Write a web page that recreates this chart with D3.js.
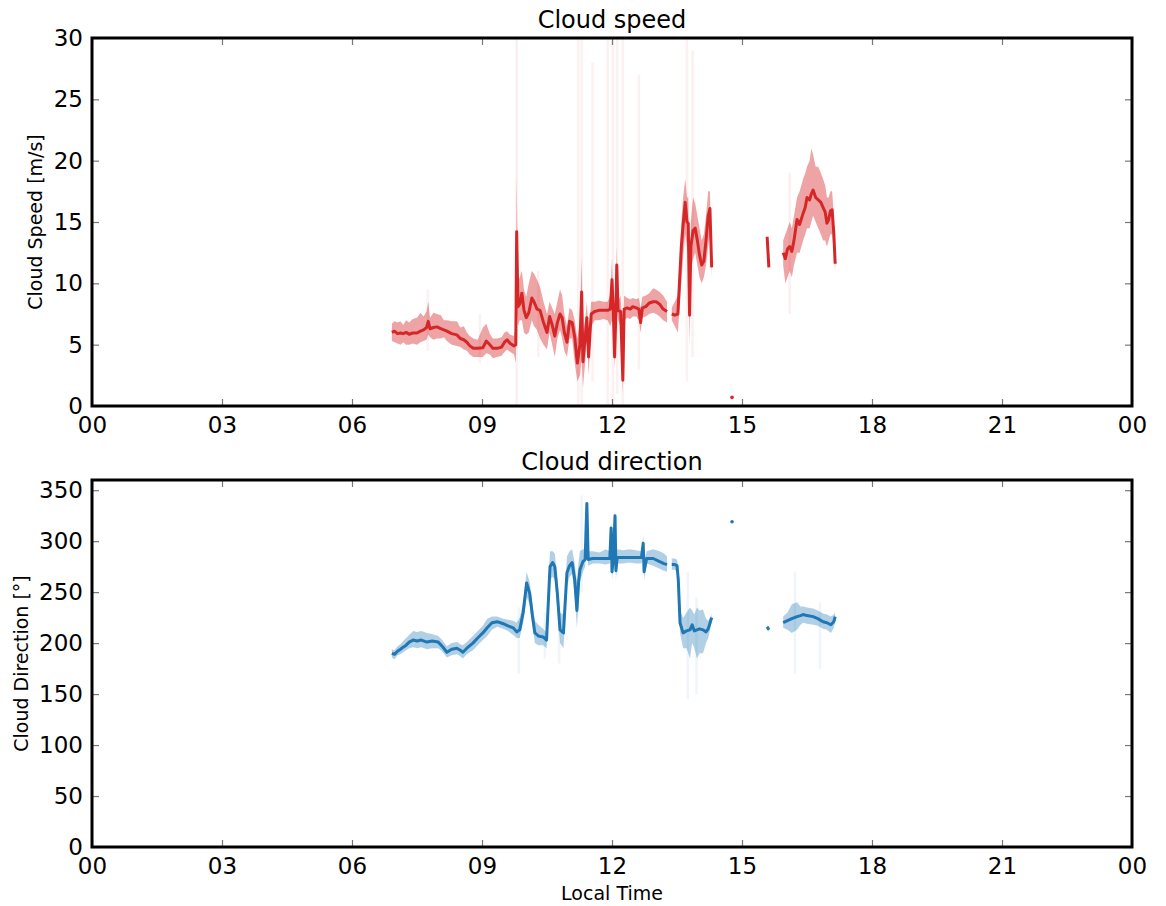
<!DOCTYPE html>
<html><head><meta charset="utf-8">
<script src="https://cdn.jsdelivr.net/npm/d3@7"></script>
<style>
body{margin:0;background:#fff;}
text{font-family:"DejaVu Sans",sans-serif;fill:#000;}
</style></head>
<body><svg id="c" width="1166" height="906"></svg>
<script>
// ---------------- DATA ----------------
const hourTicks = [0,3,6,9,12,15,18,21,24];
const hourLabels = ["00","03","06","09","12","15","18","21","00"];
const speedTicks = [0,5,10,15,20,25,30];
const dirTicks = [0,50,100,150,200,250,300,350];

// Cloud speed: time (h), mean, lower band, upper band (null = gap)
const speedT =    [6.92,6.98,7.05,7.12,7.18,7.25,7.32,7.4,7.5,7.58,7.65,7.72,7.76,7.8,7.88,7.96,8.05,8.12,8.19,8.3,8.42,8.5,8.58,8.65,8.72,8.8,8.9,9.02,9.1,9.18,9.25,9.35,9.45,9.52,9.58,9.65,9.74,9.78,9.8,9.83,9.87,9.92,9.97,10.02,10.08,10.15,10.2,10.27,10.34,10.42,10.5,10.56,10.62,10.68,10.74,10.8,10.85,10.9,10.96,11.02,11.08,11.14,11.2,11.26,11.3,11.33,11.38,11.42,11.46,11.52,11.6,11.7,11.8,11.9,11.96,12.0,12.03,12.06,12.09,12.11,12.14,12.2,12.25,12.28,12.35,12.42,12.48,12.56,12.62,12.66,12.7,12.78,12.86,12.95,13.02,13.1,13.18,13.27,13.32,13.38,13.45,13.52,13.6,13.64,13.69,13.73,13.76,13.79,13.82,13.87,13.92,13.97,14.02,14.07,14.12,14.17,14.22,14.26,14.3,14.4,15.58,15.62,15.7,15.95,16.0,16.05,16.1,16.15,16.2,16.27,16.33,16.41,16.46,16.5,16.56,16.6,16.64,16.7,16.76,16.82,16.87,16.92,16.96,17.0,17.04,17.08,17.12,17.15];
const speedMean = [6.0,6.1,5.9,5.95,5.9,6.0,5.85,5.95,5.95,6.1,6.2,6.4,6.9,6.3,6.4,6.45,6.3,6.2,6.1,5.9,5.8,5.5,5.4,5.2,4.9,4.7,4.7,4.75,5.3,5.0,4.7,4.7,4.8,5.2,5.4,5.1,4.9,5.0,14.2,8.1,8.3,9.2,7.8,7.2,7.6,8.8,8.5,7.9,7.8,6.8,6.0,7.3,6.6,5.7,6.8,7.5,7.2,6.0,5.2,6.9,6.8,5.6,3.5,5.0,9.3,3.6,5.5,7.2,4.0,7.5,7.7,7.8,7.8,7.8,7.9,10.3,7.8,4.0,7.6,11.5,7.8,7.7,2.1,7.9,8.0,7.9,8.1,8.0,7.9,6.8,8.0,8.1,8.4,8.5,8.5,8.3,7.9,7.7,null,7.5,7.4,7.5,13.0,14.7,16.6,15.0,14.9,7.4,13.0,14.3,14.5,13.5,12.3,11.5,11.8,13.5,15.5,16.1,11.3,null,13.8,11.3,null,12.5,12.0,12.8,13.0,12.6,13.5,15.2,14.8,15.7,16.2,17.0,16.8,17.3,17.6,17.0,16.8,16.6,16.2,15.8,14.9,15.2,15.9,16.0,14.0,11.6];
const speedLo =   [5.3,5.2,5.1,5.0,5.2,5.0,5.0,5.1,5.0,5.2,5.3,5.4,5.8,5.6,5.4,5.5,5.5,5.6,5.3,5.0,4.9,4.8,4.6,4.5,4.2,4.0,4.0,4.0,4.3,4.2,3.9,4.0,4.1,4.4,4.6,4.4,4.2,3.5,8.0,6.5,7.0,7.0,6.0,5.8,6.0,7.0,6.5,6.2,5.5,5.0,4.6,6.0,5.0,4.0,5.5,6.2,5.5,4.5,4.0,5.5,5.5,3.5,2.0,2.5,4.0,1.5,3.5,6.0,2.5,6.5,7.0,7.0,7.1,7.0,6.5,7.0,6.8,3.0,6.8,8.0,7.0,6.5,1.0,7.0,7.2,7.1,7.3,7.3,7.0,6.0,7.2,7.3,7.5,7.6,7.5,7.3,7.0,6.8,null,7.0,6.5,6.0,10.0,12.0,14.0,13.0,12.5,5.0,11.0,12.0,12.5,11.5,10.5,10.0,10.5,11.5,13.0,14.0,10.5,null,13.6,11.1,null,11.5,10.0,10.5,11.0,10.5,11.5,12.5,12.5,13.5,14.0,14.5,14.5,15.0,15.5,15.0,14.5,14.0,13.5,13.5,13.0,13.5,14.0,14.0,12.5,11.0];
const speedHi =   [6.7,6.9,6.8,6.9,6.6,7.0,6.8,7.1,7.2,7.6,7.3,7.7,8.5,7.2,7.6,7.5,7.4,7.0,7.0,6.9,6.9,6.4,6.5,6.0,5.7,5.5,5.4,6.4,6.7,5.9,5.5,5.5,5.6,6.0,6.1,5.8,5.7,6.5,19.0,10.0,10.5,11.0,9.5,8.9,10.0,11.0,10.8,10.3,9.7,8.5,7.5,8.5,8.0,7.5,8.5,9.5,9.0,7.5,6.5,8.0,7.8,7.0,5.5,7.0,12.0,6.0,7.0,8.5,6.0,8.5,8.5,8.6,8.5,8.5,9.0,12.0,8.5,6.0,8.6,13.0,8.5,9.0,5.0,9.0,8.8,8.7,8.8,8.7,8.8,8.0,8.9,9.0,9.2,9.6,9.5,9.3,9.0,8.5,null,8.0,8.5,9.0,15.0,17.0,18.5,17.0,17.0,10.0,15.0,17.0,16.5,15.5,14.5,13.5,14.0,15.5,17.5,17.5,12.5,null,14.0,11.5,null,13.5,14.0,14.5,15.0,14.5,15.5,17.0,17.5,18.5,19.0,19.5,20.0,21.0,20.5,19.5,19.5,19.0,18.5,18.0,17.0,17.0,17.5,17.5,15.5,12.5];
const speedDotT = [14.77];
const speedDotV = [0.7];
// faint full-range uncertainty streaks
const speedStreakT =  [7.75,8.95,9.8,10.3,11.22,11.3,11.55,11.9,12.02,12.12,12.25,12.62,13.73,13.86,16.1];
const speedStreakLo = [4.5,3.5,0,4,0,0,2,0,0,1,0,3,2,4,7.5];
const speedStreakHi = [9.5,7.5,30,11,30,30,28,30,30,30,30,27,30,29,19];

// Cloud direction: time (h), mean, lower band, upper band
const dirT =    [6.92,6.98,7.05,7.12,7.18,7.25,7.32,7.41,7.5,7.6,7.73,7.85,7.99,8.08,8.19,8.3,8.42,8.5,8.56,8.65,8.79,8.9,9.02,9.12,9.23,9.35,9.49,9.6,9.72,9.8,9.87,9.95,10.03,10.1,10.16,10.22,10.3,10.41,10.49,10.53,10.57,10.63,10.68,10.74,10.8,10.88,10.92,10.96,11.02,11.08,11.14,11.19,11.23,11.26,11.33,11.38,11.42,11.45,11.55,11.72,11.85,11.95,11.98,12.0,12.03,12.07,12.09,12.12,12.25,12.4,12.55,12.68,12.72,12.74,12.8,12.95,13.1,13.2,13.27,13.32,13.38,13.45,13.5,13.53,13.57,13.64,13.72,13.8,13.85,13.9,13.96,14.02,14.1,14.17,14.22,14.3,14.4,15.58,15.62,15.7,15.95,16.05,16.15,16.27,16.35,16.41,16.5,16.64,16.75,16.87,16.96,17.05,17.12,17.15];
const dirMean = [190,189,192,194,196,198,201,203,202,203,201,202,201,197,191,194,195,193,191,195,200,205,210,215,220,221,219,217,215,211,213,230,259,249,228,210,207,206,203,240,275,279,275,248,213,210,240,269,276,279,262,232,260,272,280,282,337,282,283,283,283,283,313,270,283,325,271,284,284,284,284,284,298,270,283,283,280,278,277,null,277,277,276,262,220,210,212,213,218,212,213,214,213,211,214,225,null,216,213,null,220,222,224,226,227,228,227,226,224,221,220,218,221,226];
const dirLo =   [186,184,188,189,191,193,195,196,195,196,194,195,195,192,186,188,189,187,185,189,193,198,203,207,213,216,214,212,208,205,205,220,245,238,218,200,198,198,195,220,262,265,262,235,200,195,225,255,265,268,248,215,240,260,270,275,300,276,278,278,277,278,290,262,276,300,262,278,278,279,278,278,285,262,278,276,273,271,270,null,272,272,270,250,210,195,195,185,200,195,185,190,190,200,205,220,null,214,211,null,215,213,210,213,218,220,219,218,217,214,213,210,215,222];
const dirHi =   [194,193,197,199,202,205,208,212,211,212,210,209,207,203,197,200,201,199,198,201,207,212,217,224,226,226,224,223,222,220,225,240,270,260,240,222,218,214,210,262,290,290,288,262,230,228,255,285,290,292,278,260,280,290,292,292,340,290,290,289,292,290,320,280,290,330,282,292,291,292,291,290,305,280,290,292,290,288,285,null,283,283,282,275,232,225,230,235,232,228,235,232,233,224,222,228,null,218,215,null,226,230,238,240,236,236,235,234,232,229,228,226,228,230];
const dirDotT = [14.77];
const dirDotV = [319];
const dirStreakT =  [9.85,10.45,10.78,11.3,13.75,13.95,16.22,16.8];
const dirStreakLo = [170,185,180,250,145,150,170,175];
const dirStreakHi = [235,230,235,345,270,245,270,240];

// ---------------- DRAW ----------------
const svg = d3.select("#c");
const X0 = 92, X1 = 1132;

function panel(cfg){
  const g = svg.append("g");
  const x = d3.scaleLinear().domain([0,24]).range([X0,X1]);
  const y = d3.scaleLinear().domain(cfg.domain).range([cfg.bottom,cfg.top]);
  const data = cfg.T.map((t,i)=>({t, m:cfg.M[i], lo:cfg.L[i], hi:cfg.H[i]}));
  const clip = "clip"+cfg.id;
  svg.append("clipPath").attr("id",clip).append("rect")
    .attr("x",X0).attr("y",cfg.top).attr("width",X1-X0).attr("height",cfg.bottom-cfg.top);
  const pg = g.append("g").attr("clip-path",`url(#${clip})`);
  // streaks
  pg.selectAll("line.streak").data(cfg.ST).join("line").attr("class","streak")
    .attr("x1",d=>x(d)).attr("x2",d=>x(d))
    .attr("y1",(d,i)=>y(cfg.SL[i])).attr("y2",(d,i)=>y(cfg.SH[i]))
    .attr("stroke",cfg.color).attr("stroke-opacity",0.07).attr("stroke-width",2.5);
  // band
  const area = d3.area().defined(d=>d.lo!=null).x(d=>x(d.t)).y0(d=>y(d.lo)).y1(d=>y(d.hi));
  pg.append("path").datum(data).attr("d",area)
    .attr("fill",cfg.color).attr("fill-opacity",cfg.bandOp);
  // line
  const line = d3.line().defined(d=>d.m!=null).x(d=>x(d.t)).y(d=>y(d.m));
  pg.append("path").datum(data).attr("d",line)
    .attr("fill","none").attr("stroke",cfg.color).attr("stroke-width",3).attr("stroke-linejoin","round");
  pg.selectAll("circle.dot").data(cfg.DT).join("circle").attr("class","dot")
    .attr("cx",d=>x(d)).attr("cy",(d,i)=>y(cfg.DV[i])).attr("r",1.8).attr("fill",cfg.color);

  // axes (ticks inside)
  const tk = 7;
  const xb = g.append("g").attr("transform",`translate(0,${cfg.bottom})`)
    .call(d3.axisBottom(x).tickValues(hourTicks).tickFormat((d,i)=>hourLabels[i]).tickSize(-tk).tickPadding(11));
  const xt = g.append("g").attr("transform",`translate(0,${cfg.top})`)
    .call(d3.axisTop(x).tickValues(hourTicks).tickFormat("").tickSize(-tk));
  const yl = g.append("g").attr("transform",`translate(${X0},0)`)
    .call(d3.axisLeft(y).tickValues(cfg.ticks).tickSize(-tk).tickPadding(9));
  const yr = g.append("g").attr("transform",`translate(${X1},0)`)
    .call(d3.axisRight(y).tickValues(cfg.ticks).tickFormat("").tickSize(-tk));
  [xb,xt,yl,yr].forEach(a=>{
    a.select(".domain").remove();
    a.selectAll(".tick line").attr("stroke","#777").attr("stroke-width",1.2);
    a.selectAll("text").attr("font-size",23).attr("font-family","DejaVu Sans").attr("fill","#000");
  });
  g.append("rect").attr("x",X0).attr("y",cfg.top).attr("width",X1-X0).attr("height",cfg.bottom-cfg.top)
    .attr("fill","none").attr("stroke","#000").attr("stroke-width",3);
  // title
  g.append("text").attr("x",(X0+X1)/2).attr("y",cfg.top-10).attr("text-anchor","middle")
    .attr("font-size",24).text(cfg.title);
  // y label
  g.append("text").attr("transform",`translate(${cfg.ylx},${(cfg.top+cfg.bottom)/2}) rotate(-90)`)
    .attr("text-anchor","middle").attr("font-size",19).text(cfg.ylabel);
}

panel({id:"s", top:38, bottom:406, domain:[0,30], ticks:speedTicks, color:"#d62728", bandOp:0.42,
  T:speedT, M:speedMean, L:speedLo, H:speedHi, DT:speedDotT, DV:speedDotV,
  ST:speedStreakT, SL:speedStreakLo, SH:speedStreakHi,
  title:"Cloud speed", ylabel:"Cloud Speed [m/s]", ylx:42});
panel({id:"d", top:480, bottom:847, domain:[0,360], ticks:dirTicks, color:"#1f77b4", bandOp:0.35,
  T:dirT, M:dirMean, L:dirLo, H:dirHi, DT:dirDotT, DV:dirDotV,
  ST:dirStreakT, SL:dirStreakLo, SH:dirStreakHi,
  title:"Cloud direction", ylabel:"Cloud Direction [°]", ylx:28});

svg.append("text").attr("x",(X0+X1)/2).attr("y",900).attr("text-anchor","middle")
  .attr("font-size",19).text("Local Time");
</script></body></html>
